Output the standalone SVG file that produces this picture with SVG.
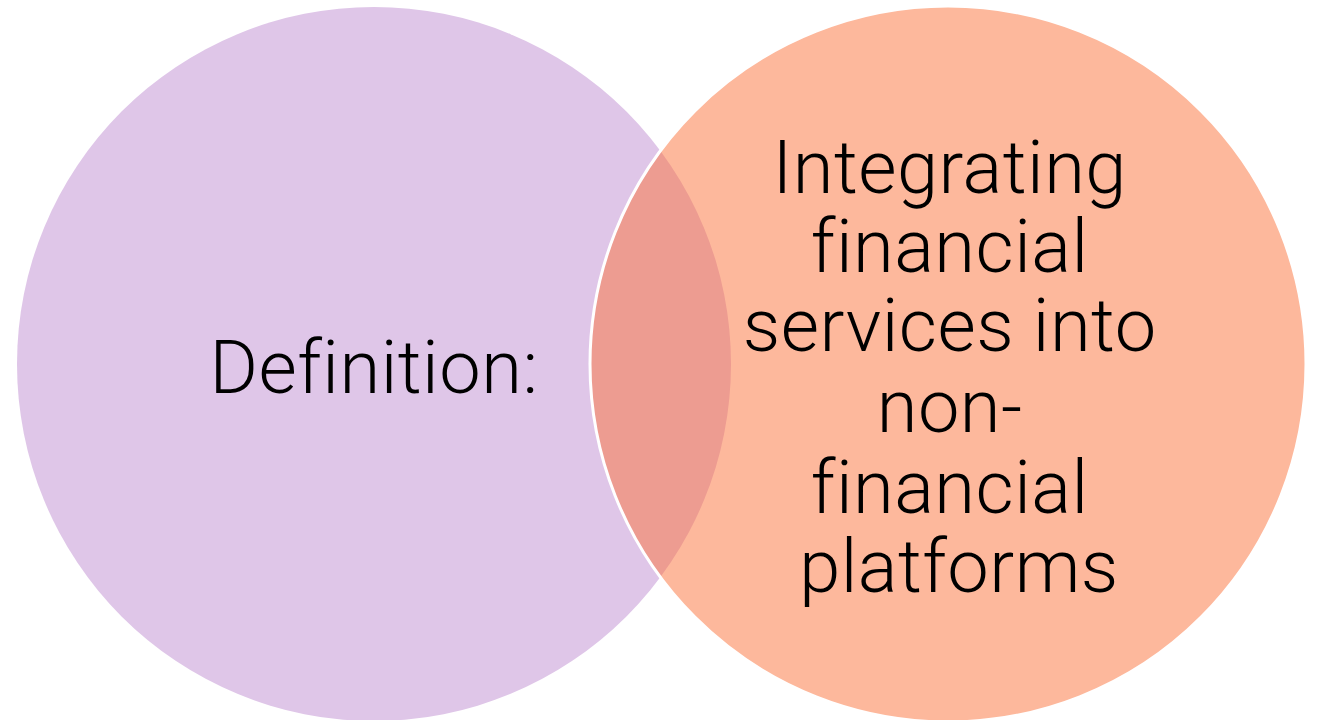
<svg xmlns="http://www.w3.org/2000/svg" width="1324" height="720" viewBox="0 0 1324 720">
  <style>
    .label { font-family: Roboto, "Liberation Sans", sans-serif; font-weight: 300; font-size: 74px; letter-spacing: 0.5px; fill: #000; text-anchor: middle; }
  </style>
  <rect width="1324" height="720" fill="#ffffff"/>
  <g id="node-definition">
    <circle cx="374" cy="364" r="357" fill="#DFC6E8"/>
    <text class="label" x="374" y="393">Definition:</text>
  </g>
  <g id="node-embedded">
    <circle cx="948" cy="364" r="358" fill="#FB7139" fill-opacity="0.5" stroke="#ffffff" stroke-width="3"/>
    <text class="label">
      <tspan x="959" y="193">Integrating</tspan>
      <tspan x="959" y="272">financial</tspan>
      <tspan x="959" y="351">services into</tspan>
      <tspan x="959" y="432">non-</tspan>
      <tspan x="959" y="513">financial</tspan>
      <tspan x="959" y="592">platforms</tspan>
    </text>
  </g>
  <g id="connectors"/>
</svg>
